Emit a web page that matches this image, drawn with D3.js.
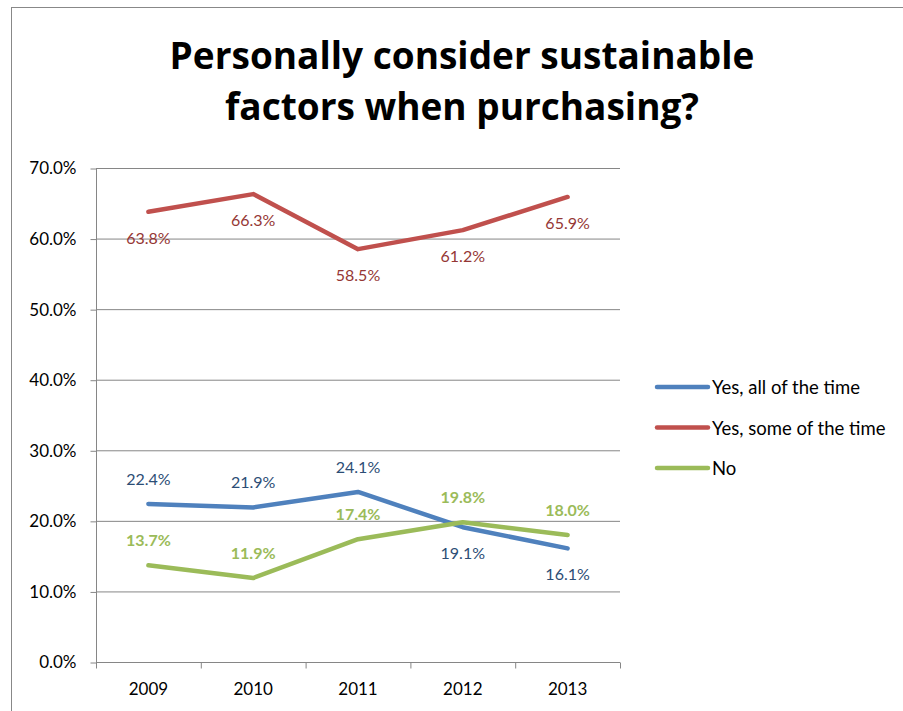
<!DOCTYPE html>
<html>
<head>
<meta charset="utf-8">
<script src="https://cdn.jsdelivr.net/npm/d3@7"></script>
<style>
  body { margin: 0; background: #fff; }
  text { font-family: Lato, "Open Sans", sans-serif; }
</style>
</head>
<body>
<script>
// chart values
var years = ["2009", "2010", "2011", "2012", "2013"];
var allTime = [22.4, 21.9, 24.1, 19.1, 16.1];
var someTime = [63.8, 66.3, 58.5, 61.2, 65.9];
var never = [13.7, 11.9, 17.4, 19.8, 18.0];
var yTicks = [0, 10, 20, 30, 40, 50, 60, 70];
var seriesNames = ["Yes, all of the time", "Yes, some of the time", "No"];

// where each label sits: -1 above the point, 1 below
var allTimePos = [-1, -1, -1, 1, 1];
var someTimePos = [1, 1, 1, 1, 1];
var neverPos = [-1, -1, -1, -1, -1];

var series = [
  {name: seriesNames[0], vals: allTime, pos: allTimePos, line: "#4f81bd", lab: "#2c4d75", bold: false},
  {name: seriesNames[1], vals: someTime, pos: someTimePos, line: "#c0504d", lab: "#953735", bold: false},
  {name: seriesNames[2], vals: never, pos: neverPos, line: "#9bbb59", lab: "#9bbb59", bold: true}
];

var W = 903, H = 711;
var svg = d3.select("body").append("svg").attr("width", W).attr("height", H);

// outer chart border, runs off the page right and bottom
svg.append("rect")
  .attr("x", 11.5).attr("y", 7.5)
  .attr("width", 1000).attr("height", 1000)
  .style("fill", "none").style("stroke", "#888").style("stroke-width", 1);

// title
svg.append("text").attr("x", 462).attr("y", 69)
  .attr("text-anchor", "middle").style("font-size", "37px").style("font-weight", "bold")
  .style("font-family", "'Open Sans', sans-serif")
  .text("Personally consider sustainable");
svg.append("text").attr("x", 462).attr("y", 120)
  .attr("text-anchor", "middle").style("font-size", "37px").style("font-weight", "bold")
  .style("font-family", "'Open Sans', sans-serif")
  .text("factors when purchasing?");

var pL = 96, pR = 620, pT = 168, pB = 662;

var x = d3.scaleBand().domain(years).range([pL, pR]);
var y = d3.scaleLinear().domain([0, 70]).range([pB, pT]);

// gridlines
svg.append("g").selectAll("line").data(yTicks.slice(1)).enter().append("line")
  .attr("x1", pL).attr("x2", pR)
  .attr("y1", function(d){ return y(d) + 0.5; })
  .attr("y2", function(d){ return y(d) + 0.5; })
  .style("stroke", "#868686").style("stroke-width", 1);

// y axis
var yAxis = svg.append("g").attr("transform", "translate(" + (pL + 0.5) + ",0.5)")
  .call(d3.axisLeft(y).tickValues(yTicks).tickSize(6).tickPadding(14)
    .tickFormat(function(d){ return d.toFixed(1) + "%"; }));
yAxis.select(".domain").attr("d", "M0," + pT + "V" + pB);

// x axis
var xAxis = svg.append("g").attr("transform", "translate(0," + (pB + 0.5) + ")")
  .call(d3.axisBottom(x).tickSize(0).tickPadding(20));
xAxis.select(".domain").attr("d", "M" + pL + ",0H" + pR);
// boundary ticks between categories
xAxis.selectAll(".bt").data(d3.range(years.length + 1)).enter().append("line")
  .attr("class", "bt")
  .attr("x1", function(i){ return pL + 0.5 + i * x.bandwidth(); })
  .attr("x2", function(i){ return pL + 0.5 + i * x.bandwidth(); })
  .attr("y1", 0).attr("y2", 6);

svg.selectAll(".domain, .tick line, .bt").style("stroke", "#868686").style("stroke-width", 1);
svg.selectAll(".tick text").style("font-size", "17px").style("fill", "#000")
  .style("font-family", "Lato, 'Open Sans', sans-serif");

var cx = function(i){ return x(years[i]) + x.bandwidth() / 2; };
var line = d3.line().x(function(d, i){ return cx(i); }).y(function(d){ return y(d); });

series.forEach(function(s){
  svg.append("path").datum(s.vals).attr("d", line)
    .style("fill", "none").style("stroke", s.line).style("stroke-width", 4.5)
    .style("stroke-linecap", "round").style("stroke-linejoin", "round");
});

series.forEach(function(s){
  svg.append("g").selectAll("text").data(s.vals).enter().append("text")
    .attr("x", function(d, i){ return cx(i); })
    .attr("y", function(d, i){ return y(d) + (s.pos[i] < 0 ? -19 : 32); })
    .attr("text-anchor", "middle")
    .style("font-size", "16px").style("fill", s.lab)
    .style("font-weight", s.bold ? "bold" : "normal")
    .text(function(d){ return d.toFixed(1) + "%"; });
});

// legend
var lg = svg.append("g").selectAll("g").data(series).enter().append("g")
  .attr("transform", function(d, i){ return "translate(657," + (387 + i * 40.5) + ")"; });
lg.append("line").attr("x1", 0).attr("x2", 51).attr("y1", 0).attr("y2", 0)
  .style("stroke", function(d){ return d.line; }).style("stroke-width", 4.5)
  .style("stroke-linecap", "round");
lg.append("text").attr("x", 55).attr("y", 7)
  .style("font-size", "18.5px").style("fill", "#000")
  .text(function(d){ return d.name; });
</script>
</body>
</html>
